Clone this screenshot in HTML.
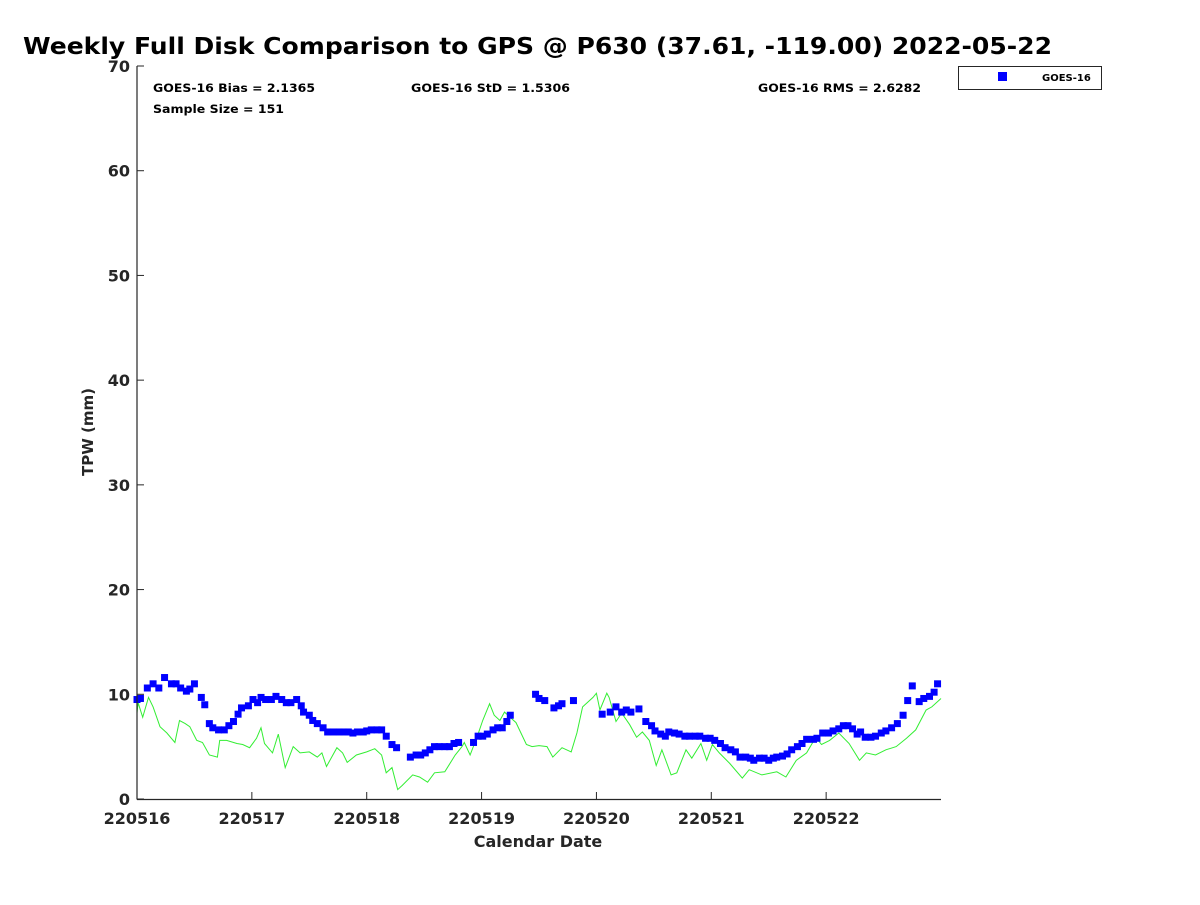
<!DOCTYPE html>
<html><head><meta charset="utf-8"><style>
body{margin:0;background:#fff;}
svg text{font-family:"DejaVu Sans","Liberation Sans",sans-serif;font-weight:bold;}
</style></head><body>
<svg id="chart" width="1200" height="900" xmlns="http://www.w3.org/2000/svg">
<rect width="1200" height="900" fill="#fff"/>
<text x="23" y="54" font-size="23" fill="#000" textLength="1029" lengthAdjust="spacingAndGlyphs">Weekly Full Disk Comparison to GPS @ P630 (37.61, -119.00) 2022-05-22</text>
<g id="grid"></g>
<g id="green"></g>
<g id="blue"></g>
<g id="axes"></g>
<text x="153" y="92" font-size="11.5" textLength="162" lengthAdjust="spacingAndGlyphs">GOES-16 Bias = 2.1365</text>
<text x="411" y="92" font-size="11.5" textLength="159" lengthAdjust="spacingAndGlyphs">GOES-16 StD = 1.5306</text>
<text x="758" y="92" font-size="11.5" textLength="163" lengthAdjust="spacingAndGlyphs">GOES-16 RMS = 2.6282</text>
<text x="153" y="113" font-size="11.5" textLength="131" lengthAdjust="spacingAndGlyphs">Sample Size = 151</text>
<text transform="translate(93,432) rotate(-90)" text-anchor="middle" font-size="15" fill="#262626">TPW (mm)</text>
<text x="538" y="847" text-anchor="middle" font-size="16" fill="#262626">Calendar Date</text>
<g>
<rect x="958.5" y="66.5" width="143" height="23" fill="#fff" stroke="#262626" stroke-width="1"/>
<rect x="998" y="72" width="9" height="9" fill="#0000ff"/>
<text x="1042" y="81" font-size="10" fill="#000">GOES-16</text>
</g>
</svg>
<script>
const xTickLabels=["220516","220517","220518","220519","220520","220521","220522"];
const yTicks=[0,10,20,30,40,50,60,70];
const blueDays=[0,.03,.09,.14,.19,.24,.30,.34,.38,.43,.46,.50,.56,.59,.63,.66,.71,.76,.80,.84,.88,.91,.97,1.01,1.05,1.08,1.12,1.17,1.21,1.26,1.30,1.34,1.39,1.43,1.45,1.50,1.53,1.57,1.62,1.66,1.71,1.76,1.80,1.84,1.88,1.92,1.97,2.00,2.04,2.09,2.13,2.17,2.22,2.26,2.38,2.43,2.47,2.51,2.55,2.59,2.63,2.68,2.72,2.76,2.80,2.93,2.97,3.01,3.05,3.10,3.14,3.18,3.22,3.25,3.47,3.50,3.55,3.63,3.67,3.70,3.80,4.05,4.12,4.17,4.22,4.26,4.30,4.37,4.43,4.48,4.51,4.56,4.60,4.63,4.68,4.72,4.77,4.81,4.86,4.90,4.95,4.99,5.03,5.08,5.12,5.17,5.21,5.25,5.30,5.34,5.37,5.42,5.46,5.50,5.54,5.57,5.62,5.66,5.70,5.75,5.79,5.83,5.89,5.92,5.97,6.02,6.06,6.11,6.15,6.19,6.23,6.27,6.30,6.34,6.39,6.43,6.48,6.52,6.57,6.62,6.67,6.71,6.75,6.81,6.85,6.90,6.94,6.97];
const blueValues=[9.5,9.6,10.6,11,10.6,11.6,11,11,10.6,10.3,10.5,11,9.7,9.0,7.2,6.8,6.6,6.6,7.0,7.4,8.1,8.7,8.9,9.5,9.2,9.7,9.5,9.5,9.8,9.5,9.2,9.2,9.5,8.9,8.3,8.0,7.5,7.2,6.8,6.4,6.4,6.4,6.4,6.4,6.3,6.4,6.4,6.5,6.6,6.6,6.6,6.0,5.2,4.9,4.0,4.2,4.2,4.4,4.7,5.0,5.0,5.0,5.0,5.3,5.4,5.4,6.0,6.0,6.2,6.6,6.8,6.8,7.4,8.0,10.0,9.6,9.4,8.7,8.9,9.1,9.4,8.1,8.3,8.8,8.3,8.5,8.3,8.6,7.4,7.0,6.5,6.2,6.0,6.4,6.3,6.2,6.0,6.0,6.0,6.0,5.8,5.8,5.6,5.3,4.9,4.7,4.5,4.0,4.0,3.9,3.7,3.9,3.9,3.7,3.9,4.0,4.1,4.3,4.7,5.0,5.3,5.7,5.7,5.8,6.3,6.3,6.5,6.7,7.0,7.0,6.7,6.2,6.4,5.9,5.9,6.0,6.3,6.5,6.8,7.2,8.0,9.4,10.8,9.3,9.6,9.8,10.2,11.0];
const greenDays=[0,.01,.05,.10,.14,.20,.26,.33,.37,.42,.46,.52,.57,.63,.70,.72,.78,.87,.92,.98,1.04,1.08,1.11,1.18,1.23,1.29,1.36,1.42,1.50,1.57,1.61,1.65,1.74,1.79,1.83,1.91,2.00,2.07,2.13,2.17,2.22,2.27,2.31,2.40,2.46,2.53,2.59,2.68,2.77,2.83,2.85,2.90,2.96,3.01,3.07,3.11,3.16,3.20,3.30,3.39,3.44,3.50,3.57,3.62,3.70,3.78,3.83,3.88,3.97,4.00,4.03,4.09,4.11,4.17,4.22,4.29,4.35,4.40,4.46,4.52,4.57,4.65,4.70,4.78,4.83,4.91,4.96,5.01,5.07,5.16,5.27,5.33,5.44,5.57,5.65,5.74,5.83,5.91,5.96,6.03,6.11,6.20,6.29,6.35,6.43,6.52,6.61,6.70,6.78,6.87,6.92,7.00];
const greenValues=[8.2,9.2,7.8,9.7,8.8,6.9,6.3,5.4,7.5,7.2,6.9,5.6,5.4,4.2,4.0,5.6,5.6,5.3,5.2,4.9,5.8,6.8,5.3,4.4,6.2,3.0,5.0,4.4,4.5,4.0,4.4,3.1,4.9,4.4,3.5,4.2,4.5,4.8,4.2,2.5,3.0,0.9,1.3,2.3,2.1,1.6,2.5,2.6,4.2,5.0,5.4,4.2,5.9,7.5,9.1,8.0,7.5,8.3,7.3,5.2,5.0,5.1,5.0,4.0,4.9,4.5,6.3,8.8,9.7,10.1,8.5,10.1,9.7,7.4,8.2,7.1,5.9,6.4,5.6,3.2,4.7,2.3,2.5,4.7,3.9,5.3,3.7,5.2,4.4,3.4,2.0,2.8,2.3,2.6,2.1,3.7,4.4,5.9,5.2,5.6,6.3,5.3,3.7,4.4,4.2,4.7,5.0,5.8,6.6,8.5,8.8,9.6];

const X0=137,X1=941,Y0=799,Y1=66;
const xs=d=>X0+d*(X1-X0)/7;
const ys=v=>Y0-v*(Y0-Y1)/70;
const NS="http://www.w3.org/2000/svg";
function mk(tag,attrs,parent){const e=document.createElementNS(NS,tag);for(const k in attrs)e.setAttribute(k,attrs[k]);parent.appendChild(e);return e;}
const axes=document.getElementById('axes');
const l1=mk('line',{x1:X0,y1:Y1,x2:X0,y2:Y0+0.5,stroke:'#262626','stroke-width':1.2},axes);


const l2=mk('line',{x1:X0,y1:Y0+0.5,x2:X1,y2:Y0+0.5,stroke:'#262626','stroke-width':1.2},axes);


yTicks.forEach(v=>{
  const y=ys(v);
  const t=mk('line',{x1:X0,y1:y,x2:X0+7,y2:y,stroke:'#262626'},axes);
  
  
  const tx=mk('text',{x:X0-7,y:y+6,'text-anchor':'end','font-size':16,fill:'#262626'},axes);
  
  
  tx.textContent=v;
});
xTickLabels.forEach((lab,i)=>{
  const x=xs(i);
  const t=mk('line',{x1:x,y1:Y0,x2:x,y2:Y0-7,stroke:'#262626'},axes);
  
  
  const tx=mk('text',{x:x,y:Y0+25,'text-anchor':'middle','font-size':16,fill:'#262626'},axes);
  
  
  tx.textContent=lab;
});
const g=document.getElementById('green');
const pts=greenDays.map((d,i)=>xs(d).toFixed(1)+','+ys(greenValues[i]).toFixed(1)).join(' ');
const pl=mk('polyline',{points:pts,fill:'none',stroke:'#33ee33','stroke-width':1},g);


const b=document.getElementById('blue');
blueDays.forEach((d,i)=>{
  const r=mk('rect',{x:xs(d)-3.5,y:ys(blueValues[i])-3.5,width:7,height:7,fill:'#0000ff'},b);
  
  
});
</script>
</body></html>
